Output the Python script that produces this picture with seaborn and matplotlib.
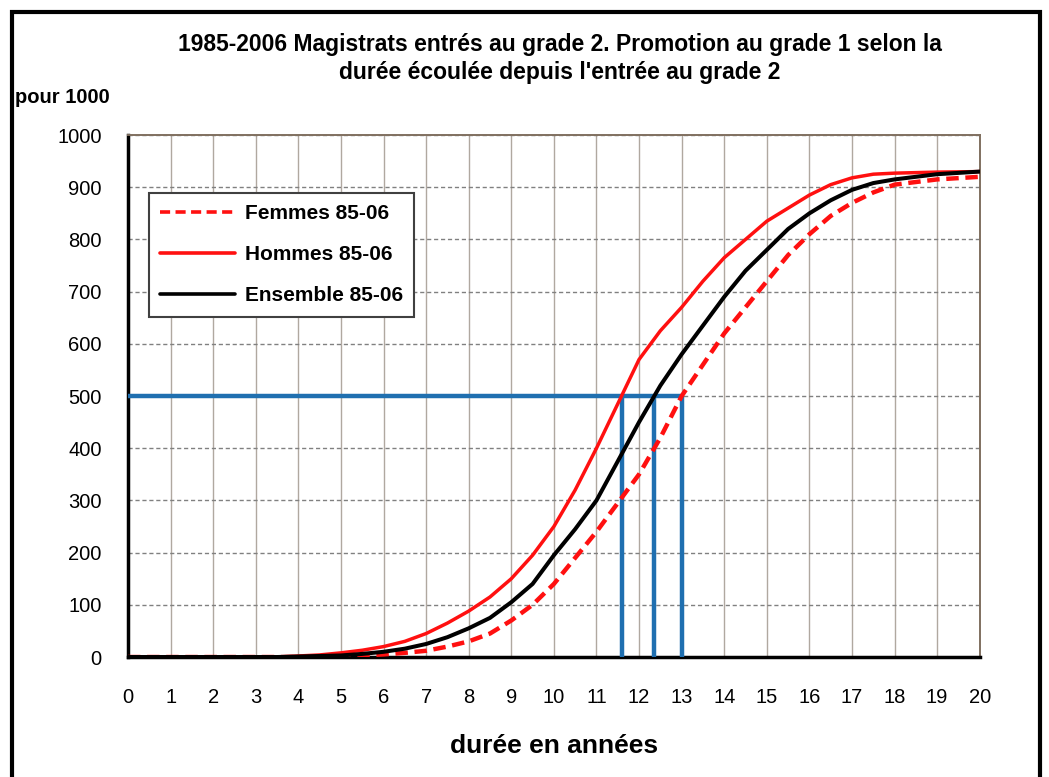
import pandas as pd
import matplotlib
matplotlib.use("Agg")
import matplotlib.pyplot as plt
import seaborn as sns
from matplotlib.patches import Rectangle

# Years since entry to grade 2 (half-year readings)
annees = [0, 1, 2, 3, 3.5, 4, 4.5, 5, 5.5, 6, 6.5, 7, 7.5, 8, 8.5, 9, 9.5, 10,
          10.5, 11, 11.5, 12, 12.5, 13, 13.5, 14, 14.5, 15, 15.5, 16, 16.5, 17,
          17.5, 18, 19, 20]

hommes = [0, 0, 0, 0, 0, 2, 4, 8, 13, 20, 30, 45, 65, 88, 115, 150, 195, 250,
          320, 400, 485, 570, 625, 670, 720, 765, 800, 835, 860, 885, 905, 918,
          925, 927, 929, 930]
ensemble = [0, 0, 0, 0, 0, 1, 2, 3, 6, 10, 16, 25, 38, 55, 75, 105, 140, 195,
            245, 300, 375, 450, 520, 580, 635, 690, 740, 780, 820, 850, 875, 895,
            908, 915, 925, 930]
femmes = [0, 0, 0, 0, 0, 0, 0, 1, 3, 5, 8, 12, 20, 30, 45, 70, 100, 140,
          190, 240, 295, 350, 420, 500, 560, 620, 670, 720, 770, 810, 845, 870,
          890, 905, 915, 920]

# Median durations (500 per 1000)
medianes = [11.6, 12.35, 13.0]
seuil = 500

df = pd.DataFrame({"annees": annees, "Femmes 85-06": femmes,
                   "Hommes 85-06": hommes, "Ensemble 85-06": ensemble})

sns.set_style("white", {"text.color": "black", "xtick.color": "black",
                        "ytick.color": "black", "axes.labelcolor": "black"})
plt.rcParams["font.family"] = ["Liberation Sans", "DejaVu Sans"]

fig = plt.figure(figsize=(10.49, 7.77), dpi=100)
ax = fig.add_axes([0.122, 0.1544, 0.812, 0.6718])

blue = "#1f6fb0"
ax.plot([0, medianes[-1]], [seuil, seuil], color=blue, lw=3.2, zorder=3,
        solid_capstyle="butt")
for m in medianes:
    ax.plot([m, m], [0, seuil], color=blue, lw=3.2, zorder=3,
            solid_capstyle="butt")

sns.lineplot(data=df, x="annees", y="Femmes 85-06", ax=ax, color="#ff1010",
             lw=3.2, linestyle=(0, (2.8, 1.5)), label="Femmes 85-06", zorder=4)
sns.lineplot(data=df, x="annees", y="Hommes 85-06", ax=ax, color="#ff1010",
             lw=2.5, label="Hommes 85-06", zorder=4)
sns.lineplot(data=df, x="annees", y="Ensemble 85-06", ax=ax, color="black",
             lw=2.9, label="Ensemble 85-06", zorder=5)

ax.set_xlim(0, 20)
ax.set_ylim(0, 1000)
ax.set_xticks(range(0, 21))
ax.set_yticks(range(0, 1001, 100))
ax.tick_params(axis="both", labelsize=14.5, length=0, labelcolor="black")
ax.tick_params(axis="y", pad=19)
ax.tick_params(axis="x", pad=22)
ax.set_xlabel("durée en années", fontsize=19, fontweight="bold", labelpad=20,
              color="black")
ax.set_ylabel("")

ax.grid(axis="x", color="#b0a8a0", lw=1.0, linestyle="-")
ax.grid(axis="y", color="#808080", lw=1.0, linestyle=(0, (3, 2)))
ax.set_axisbelow(True)

ax.spines["left"].set_color("black")
ax.spines["left"].set_linewidth(2.5)
ax.spines["bottom"].set_color("black")
ax.spines["bottom"].set_linewidth(2.5)
for s in ["top", "right"]:
    ax.spines[s].set_color("#807060")
    ax.spines[s].set_linewidth(1.4)

leg = ax.legend(loc="upper left", bbox_to_anchor=(0.0246, 0.889),
                borderaxespad=0, prop={"weight": "bold", "size": 15},
                handlelength=3.6, handletextpad=0.45, labelspacing=1.05,
                borderpad=0.55, fancybox=False, framealpha=1,
                edgecolor="#404040")
leg.get_frame().set_linewidth(1.5)
for h in leg.get_lines():
    h.set_linewidth(2.6)
for t in leg.get_texts():
    t.set_color("black")

fig.text(0.534, 0.925, "1985-2006 Magistrats entrés au grade 2. Promotion au grade 1 selon la\n"
         "durée écoulée depuis l'entrée au grade 2", ha="center", va="center",
         fontsize=16.5, fontweight="bold", linespacing=1.3, color="black")
fig.text(0.014, 0.875, "pour 1000", ha="left", va="center", fontsize=14.5,
         fontweight="bold", color="black")

fig.patches.append(Rectangle((0.011, -0.05), 0.98, 1.034, transform=fig.transFigure,
                             fill=False, edgecolor="black", lw=3))

fig.savefig("out.png", dpi=100)
